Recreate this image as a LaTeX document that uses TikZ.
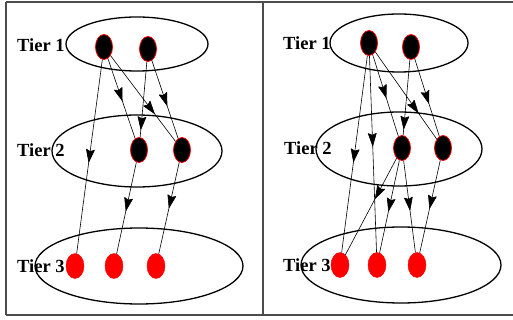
\documentclass[tikz,border=0pt]{standalone}
\usepackage{fontspec}
\setmainfont{Liberation Serif}
\usetikzlibrary{shapes.geometric,arrows.meta,decorations.markings}

\tikzset{
  host/.style={ellipse, fill=black, draw=red, line width=0.8pt, minimum width=17pt, minimum height=25pt, inner sep=0pt},
  leaf/.style={ellipse, fill=red, draw=red, minimum width=18pt, minimum height=25pt, inner sep=0pt},
  tier/.style={line width=1.3pt},
  tierlabel/.style={anchor=west, inner sep=0pt, font=\fontsize{18.5}{20}\selectfont\bfseries},
  link/.style={line width=0.6pt, postaction={decorate},
    decoration={markings, mark=at position #1 with {\arrow[line width=0.6pt]{Stealth[length=14pt,width=9pt,inset=2pt,round]}}}},
  link/.default=0.5
}

\begin{document}
\begin{tikzpicture}[x=1pt, y=-1pt]
  \useasboundingbox (0,0) rectangle (513,320);
  % frame
  \draw[gray!60!black, line width=1.3pt] (6,2) -- (513,2) (6,315) -- (513,315) (6,2) -- (6,315) (263,2) -- (263,315);

  % ---- left panel ----
  % tier ellipses
  \draw[tier] (137,44) ellipse (71pt and 27pt);
  \draw[tier] (137,151) ellipse (85pt and 36pt);
  \draw[tier] (139,266) ellipse (104pt and 38pt);
  \node[tierlabel] (la) at (17,45) {Tier 1};
  \node[tierlabel] (lb) at (17,150) {Tier 2};
  \node[tierlabel] (lc) at (17,266) {Tier 3};
  % nodes
  \node[host] (a1) at (104,47) {};
  \node[host] (a2) at (148,49) {};
  \node[host] (b1) at (139,150) {};
  \node[host] (b2) at (182,150) {};
  \node[leaf] (c1) at (75,266) {};
  \node[leaf] (c2) at (114,266) {};
  \node[leaf] (c3) at (156,266) {};
  % links
  \draw[link=0.53] (a1) -- (c1);
  \draw[link=0.53] (a1) -- (b1);
  \draw[link=0.68] (a1) -- (b2);
  \draw[link=0.9] (a2) -- (b1);
  \draw[link=0.58] (a2) -- (b2);
  \draw[link=0.53] (b1) -- (c2);
  \draw[link=0.5] (b2) -- (c3);

  % ---- right panel ----
  % tier ellipses
  \draw[tier] (399,43) ellipse (69pt and 29pt);
  \draw[tier] (399,149) ellipse (83pt and 37pt);
  \draw[tier] (401,265) ellipse (100pt and 38pt);
  \node[tierlabel] (ra) at (283,43) {Tier 1};
  \node[tierlabel] (rb) at (284,148) {Tier 2};
  \node[tierlabel] (rc) at (283,265) {Tier 3};
  % nodes
  \node[host] (p1) at (369,43) {};
  \node[host] (p2) at (411,47) {};
  \node[host] (q1) at (402,148) {};
  \node[host] (q2) at (443,148) {};
  \node[leaf] (s1) at (340,265) {};
  \node[leaf] (s2) at (377,265) {};
  \node[leaf] (s3) at (417,265) {};
  % links
  \draw[link=0.54] (p1) -- (s1);
  \draw[link=0.46] (p1) -- (s2);
  \draw[link=0.53] (p1) -- (q1);
  \draw[link=0.7] (p1) -- (q2);
  \draw[link=0.92] (p2) -- (q1);
  \draw[link=0.58] (p2) -- (q2);
  \draw[link=0.42] (q1) -- (s1);
  \draw[link=0.55] (q1) -- (s2);
  \draw[link=0.54] (q1) -- (s3);
  \draw[link=0.52] (q2) -- (s3);
\end{tikzpicture}
\end{document}
